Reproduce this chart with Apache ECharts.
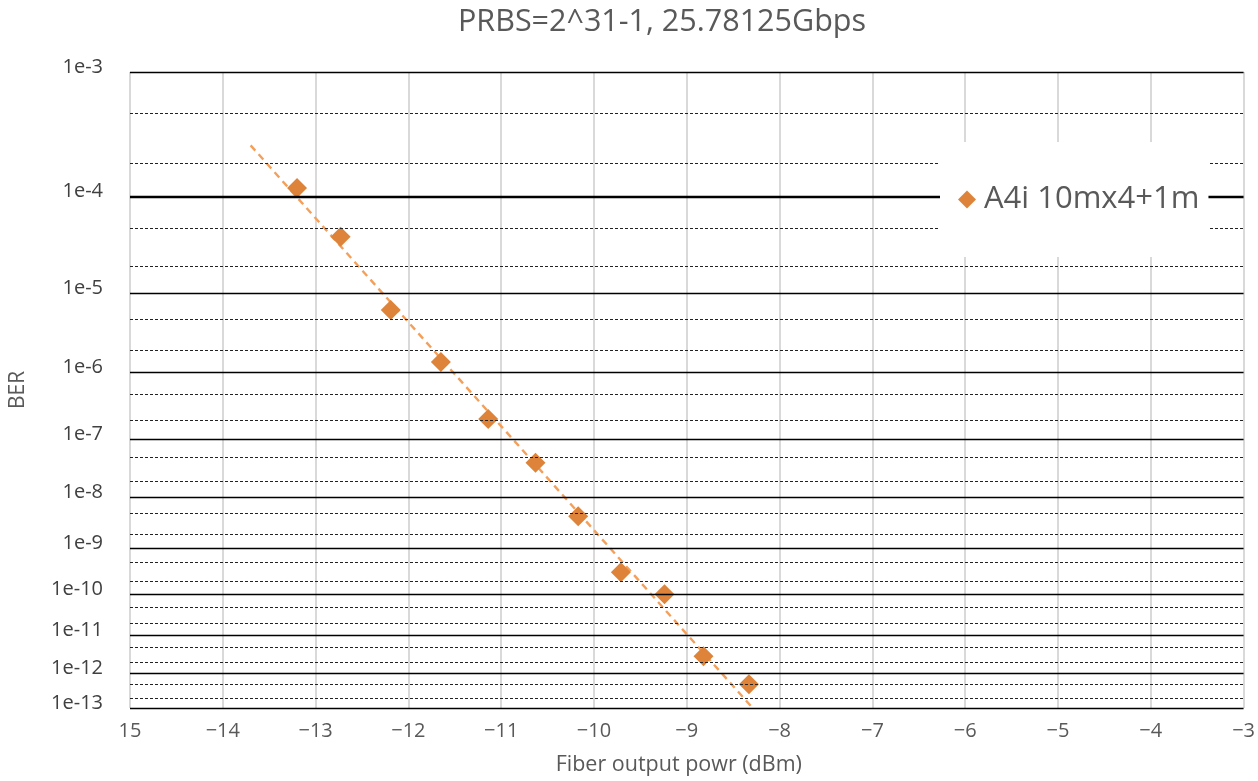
<!DOCTYPE html>
<html>
<head>
<meta charset="utf-8">
<script src="https://cdn.jsdelivr.net/npm/echarts@6/dist/echarts.min.js"></script>
<style>
html,body{margin:0;padding:0;background:#fff;}
#chart{width:1258px;height:781px;}
</style>
</head>
<body>
<div id="chart"></div>
<script>
// ---- data ----
const seriesName = 'A4i 10mx4+1m';
const powerDbm = [-13.2, -12.73, -12.19, -11.65, -11.14, -10.63, -10.17, -9.71, -9.24, -8.82, -8.33];
const ber = [1.2e-4, 4.1e-5, 6.4e-6, 1.4e-6, 2.1e-7, 4.1e-8, 4.4e-9, 3.1e-10, 1.0e-10, 2.9e-12, 4.9e-13];
// trend line end points (as drawn)
const trendPower = [-13.7, -8.28];
const trendBer = [2.8e-4, 0.93e-13];
// y tick exponents: labels 1e-3 ... 1e-13
const majorExps = [3, 4, 5, 6, 7, 8, 9, 10, 11, 12, 13];
const minorMantissas = [5, 2];
const xTicks = [-15, -14, -13, -12, -11, -10, -9, -8, -7, -6, -5, -4, -3];

const toExp = b => -Math.log10(b);

const majorLines = majorExps.map(e => ({ yAxis: e, lineStyle: { type: 'solid', color: '#000', width: e === 4 ? 2.4 : 1.3 } }));
const minorLines = [];
majorExps.slice(0, -1).forEach(e => {
  minorMantissas.forEach(m => {
    minorLines.push({ yAxis: toExp(m * Math.pow(10, -(e + 1))), lineStyle: { type: [3, 2], color: '#222', width: 1 } });
  });
});

const chart = echarts.init(document.getElementById('chart'), null, { renderer: 'canvas' });
const font = '"Open Sans", "Noto Sans", sans-serif';
chart.setOption({
  animation: false,
  backgroundColor: '#fff',
  title: {
    text: 'PRBS=2^31-1, 25.78125Gbps',
    left: 657, top: 2, textAlign: 'center',
    textStyle: { fontFamily: font, fontSize: 30.5, fontWeight: 'normal', color: '#595959' }
  },
  legend: {
    data: [{ name: seriesName, icon: 'diamond' }],
    left: 940, top: 142,
    padding: [42, 9, 42, 18],
    backgroundColor: '#fff',
    itemWidth: 18, itemHeight: 18, itemGap: 10,
    textStyle: { fontFamily: font, fontSize: 31, color: '#595959', padding: [0, 0, 0, 3] },
    z: 10
  },
  grid: { left: 129, right: 11, top: 72, bottom: 73, containLabel: false },
  xAxis: {
    type: 'value', min: -15, max: -3, interval: 1,
    name: 'Fiber output powr (dBm)', nameLocation: 'middle', nameGap: 46,
    nameTextStyle: { fontFamily: font, fontSize: 21.5, color: '#595959', padding: [0, 0, 0, -16] },
    axisLine: { show: false },
    axisTick: { show: false },
    axisLabel: {
      fontFamily: font, fontSize: 20, color: '#595959', margin: 13,
      formatter: v => v === -15 ? '15' : '\u2212' + Math.abs(v)
    },
    splitLine: { show: true, lineStyle: { color: '#d9d9d9', width: 2 } }
  },
  yAxis: {
    type: 'log', logBase: 10, min: 3, max: 13, inverse: true,
    name: 'BER', nameLocation: 'middle', nameGap: 101, nameRotate: 90,
    nameTextStyle: { fontFamily: font, fontSize: 21, color: '#595959' },
    axisLine: { show: false },
    axisTick: { show: false },
    splitLine: { show: false },
    axisLabel: {
      customValues: majorExps,
      fontFamily: font, fontSize: 20, color: '#404040', margin: 27,
      verticalAlign: 'bottom', lineHeight: 10,
      formatter: v => '1e-' + Math.round(v)
    }
  },
  series: [
    {
      type: 'line', data: [], silent: true, z: 1,
      markLine: {
        silent: true, symbol: 'none', animation: false,
        label: { show: false },
        data: minorLines.concat(majorLines)
      }
    },
    {
      name: 'trend', type: 'line', silent: true, z: 3,
      data: trendPower.map((p, i) => [p, toExp(trendBer[i])]),
      showSymbol: false, symbol: 'none',
      lineStyle: { color: '#F4A05A', width: 2.4, type: [7, 5] },
      clip: true
    },
    {
      name: seriesName, type: 'scatter', z: 4,
      symbol: 'diamond', symbolSize: 20,
      itemStyle: { color: '#DE843A', opacity: 1 },
      data: powerDbm.map((p, i) => [p, toExp(ber[i])])
    }
  ]
});
</script>
</body>
</html>
